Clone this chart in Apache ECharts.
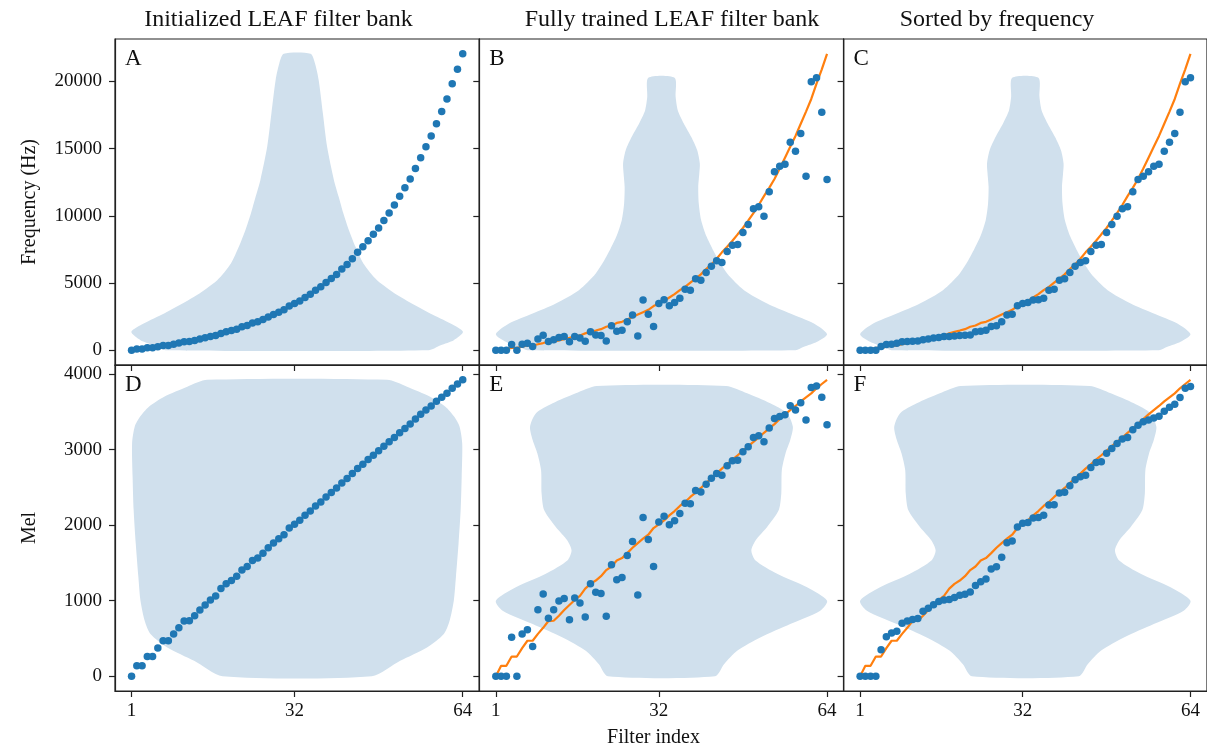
<!DOCTYPE html>
<html><head><meta charset="utf-8">
<script src="https://cdn.jsdelivr.net/npm/echarts@6/dist/echarts.min.js"></script>
<style>html,body{margin:0;padding:0;background:#fff}#c{width:1207px;height:749px}</style>
</head><body><div id="c"></div>
<script>
// ---------------- data ----------------
const filterIndex = [1,2,3,4,5,6,7,8,9,10,11,12,13,14,15,16,17,18,19,20,21,22,23,24,25,26,27,28,29,30,31,32,33,34,35,36,37,38,39,40,41,42,43,44,45,46,47,48,49,50,51,52,53,54,55,56,57,58,59,60,61,62,63,64];

const initHz = [0,86,86,172,172,258,345,345,440,530,630,640,725,823,916,1013,1098,1250,1365,1460,1566,1740,1840,2030,2110,2290,2470,2650,2830,3000,3280,3470,3666,3920,4168,4466,4714,5030,5330,5640,6040,6380,6800,7280,7690,8140,8620,9090,9640,10200,10800,11460,12080,12740,13510,14320,15130,15940,16850,17750,18690,19830,20900,22050];
const initMel = [0,137,137,260,260,372,469,469,560,640,730,734,801,876,943,1009,1063,1160,1222,1266,1324,1405,1452,1530,1563,1629,1700,1762,1820,1873,1961,2010,2063,2129,2186,2253,2306,2373,2430,2492,2558,2616,2682,2748,2806,2868,2925,2983,3045,3102,3160,3222,3280,3337,3404,3466,3523,3577,3638,3691,3744,3811,3868,3923];

const trainedHz = [0,0,0,420,0,445,520,280,830,1110,650,780,950,1010,620,1015,900,665,1364,1135,1100,685,1820,1414,1475,2108,2615,1050,3740,2678,1760,3472,3745,3310,3550,3870,4540,4464,5307,5208,5779,6250,6647,6523,7342,7812,7862,8755,9350,10517,10664,9970,11780,13268,13690,13839,15476,14806,16120,12946,19964,20262,17707,12698];
const trainedMel = [0,0,0,515,0,558,616,394,880,1089,766,881,996,1027,748,1036,970,783,1222,1111,1093,792,1474,1275,1306,1598,1784,1076,2100,1811,1452,2041,2116,2006,2059,2152,2289,2284,2457,2439,2541,2621,2683,2661,2785,2851,2860,2970,3036,3160,3182,3103,3284,3412,3439,3461,3581,3523,3620,3390,3820,3842,3691,3328];

const sortedHz = [0,0,0,0,280,420,445,520,620,650,665,685,780,830,900,950,1010,1015,1050,1100,1110,1135,1364,1414,1475,1760,1820,2108,2615,2678,3310,3472,3550,3740,3745,3870,4464,4540,5208,5307,5779,6250,6523,6647,7342,7812,7862,8755,9350,9970,10517,10664,11780,12698,12946,13268,13690,13839,14806,15476,16120,17707,19964,20262];
const sortedMel = [0,0,0,0,350,522,570,595,700,730,750,765,860,900,945,990,1010,1015,1040,1070,1085,1116,1200,1250,1285,1420,1450,1575,1765,1790,1975,2025,2035,2095,2100,2130,2265,2270,2425,2435,2522,2600,2640,2660,2762,2828,2838,2950,3015,3080,3140,3160,3262,3322,3368,3390,3418,3440,3508,3560,3600,3688,3812,3835];

const hzTicks = [0, 5000, 10000, 15000, 20000];
const melTicks = [0, 1000, 2000, 3000, 4000];
const indexTicks = [1, 32, 64];

// violin outlines: levels (bottom -> top) and half widths in filter-index units
const violinCenter = 32.5;
const violinInitHzLevels = [0, 372, 744, 1364, 1984, 2728, 3968, 5208, 6448, 7688, 8928, 10168, 11408, 12648, 15128, 17608, 20088, 21328, 22050];
const violinInitHzHalf   = [25.0, 27.3, 29.8, 31.55, 29.2, 25.3, 19.6, 15.2, 12.6, 11.1, 9.85, 8.8, 7.9, 7.0, 5.7, 4.9, 4.1, 3.4, 2.55];
const violinTrainedHzLevels = [0, 248, 620, 1190, 1984, 2728, 3472, 4464, 5704, 6944, 8432, 9672, 10912, 12152, 13144, 13888, 14880, 15872, 16864, 17856, 18848, 20262];
const violinTrainedHzHalf   = [25.5, 27.1, 29.6, 31.5, 29.0, 24.5, 20.1, 15.7, 12.5, 10.5, 8.6, 7.55, 7.1, 7.0, 7.2, 7.3, 6.8, 5.65, 4.25, 3.1, 2.7, 2.5];
const violinInitMelLevels = [0, 203, 380, 558, 734, 1000, 1310, 1753, 2195, 2638, 3081, 3302, 3434, 3567, 3700, 3833, 3923];
const violinInitMelHalf   = [14.2, 19.6, 24.7, 27.9, 29.0, 29.8, 30.2, 30.7, 31.1, 31.3, 31.4, 30.9, 29.9, 28.2, 25.3, 20.9, 17.1];
const violinTrainedMelLevels = [0, 159, 336, 513, 691, 867, 1000, 1177, 1355, 1531, 1664, 1797, 1974, 2195, 2417, 2726, 2948, 3125, 3302, 3479, 3612, 3745, 3842];
const violinTrainedMelHalf   = [10.2, 11.9, 14.4, 18.8, 24.5, 30.2, 31.5, 27.7, 22.0, 17.9, 17.1, 17.9, 20.1, 22.3, 22.8, 22.9, 23.6, 24.5, 25.0, 23.9, 20.7, 16.3, 12.3];

const panelTitles = ['Initialized LEAF filter bank', 'Fully trained LEAF filter bank', 'Sorted by frequency'];
const panelLetters = ['A', 'B', 'C', 'D', 'E', 'F'];
const yNames = ['Frequency (Hz)', 'Mel'];
const xName = 'Filter index';

// ---------------- layout / style ----------------
const FONT = 'Liberation Serif';
const lefts = [115, 479.3, 843.6];
const tops = [39, 365];
const W = 364.3, H = 326;
const yRanges = [[-1102.5, 23152.5], [-196.2, 4119.5]];
const xRange = [-2.15, 67.15];
const C_DOT = '#1f77b4', C_LINE = '#ff7f0e', C_VIOLIN = '#d0e0ed', C_AX = '#222';

function zip(xs, ys) { return xs.map((x, i) => [x, ys[i]]); }
const plain = v => String(v);

const grids = [], xAxes = [], yAxes = [], series = [], graphics = [];
for (let r = 0; r < 2; r++) {
  for (let c = 0; c < 3; c++) {
    const g = r * 3 + c;
    grids.push({ left: lefts[c], top: tops[r], width: W, height: H, show: true, borderColor: C_AX, borderWidth: 1.2, containLabel: false });
    xAxes.push({
      gridIndex: g, type: 'value', min: xRange[0], max: xRange[1],
      axisLine: { show: true, onZero: false, lineStyle: { color: C_AX, width: 1.2 } },
      axisTick: { show: true, inside: false, length: 6, customValues: indexTicks, lineStyle: { color: C_AX, width: 1.2 } },
      axisLabel: { show: r === 1, customValues: indexTicks, formatter: plain, margin: 11, color: '#111', fontFamily: FONT, fontSize: 19 },
      splitLine: { show: false }
    });
    yAxes.push({
      gridIndex: g, type: 'value', min: yRanges[r][0], max: yRanges[r][1],
      axisLine: { show: true, onZero: false, lineStyle: { color: C_AX, width: 1.2 } },
      axisTick: { show: true, inside: false, length: 6, customValues: r === 0 ? hzTicks : melTicks, lineStyle: { color: C_AX, width: 1.2 } },
      axisLabel: { show: c === 0, customValues: r === 0 ? hzTicks : melTicks, formatter: plain, margin: 13, color: '#111', fontFamily: FONT, fontSize: 19 },
      splitLine: { show: false }
    });
  }
}

function violin(g, levels, half) {
  return {
    type: 'custom', xAxisIndex: g, yAxisIndex: g, z: 1, silent: true, animation: false,
    data: [[violinCenter, 0]],
    renderItem: function (params, api) {
      const pts = [];
      for (let k = 0; k < levels.length; k++) pts.push(api.coord([violinCenter + half[k], levels[k]]));
      for (let k = levels.length - 1; k >= 0; k--) pts.push(api.coord([violinCenter - half[k], levels[k]]));
      return { type: 'polygon', shape: { points: pts, smooth: 0.25 }, style: { fill: C_VIOLIN } };
    }
  };
}
function line(g, ys) {
  return { type: 'line', xAxisIndex: g, yAxisIndex: g, z: 2, data: zip(filterIndex, ys), showSymbol: false, symbol: 'none',
    lineStyle: { color: C_LINE, width: 2.2 }, animation: false, silent: true };
}
function dots(g, ys) {
  return { type: 'scatter', xAxisIndex: g, yAxisIndex: g, z: 3, data: zip(filterIndex, ys), symbolSize: 7.5,
    itemStyle: { color: C_DOT, opacity: 1 }, animation: false, silent: true };
}

series.push(violin(0, violinInitHzLevels, violinInitHzHalf), dots(0, initHz));
series.push(violin(1, violinTrainedHzLevels, violinTrainedHzHalf), line(1, initHz), dots(1, trainedHz));
series.push(violin(2, violinTrainedHzLevels, violinTrainedHzHalf), line(2, initHz), dots(2, sortedHz));
series.push(violin(3, violinInitMelLevels, violinInitMelHalf), dots(3, initMel));
series.push(violin(4, violinTrainedMelLevels, violinTrainedMelHalf), line(4, initMel), dots(4, trainedMel));
series.push(violin(5, violinTrainedMelLevels, violinTrainedMelHalf), line(5, initMel), dots(5, sortedMel));

// titles
const titleX = [278.5, 672, 997];
panelTitles.forEach((t, i) => graphics.push({ type: 'text', x: titleX[i], y: 31.5, silent: true,
  style: { text: t, fill: '#111', font: '24px "' + FONT + '"', textAlign: 'center', textVerticalAlign: 'bottom' } }));
// panel letters
panelLetters.forEach((t, i) => {
  const r = Math.floor(i / 3), c = i % 3;
  graphics.push({ type: 'text', x: lefts[c] + 10, y: tops[r] + 31, silent: true, z: 10,
    style: { text: t, fill: '#111', font: '23px "' + FONT + '"', textAlign: 'left', textVerticalAlign: 'bottom' } });
});
// axis names
graphics.push({ type: 'text', x: 30, y: tops[0] + H / 2, rotation: Math.PI / 2, silent: true,
  style: { text: yNames[0], fill: '#111', font: '20px "' + FONT + '"', textAlign: 'center', textVerticalAlign: 'middle' } });
graphics.push({ type: 'text', x: 30, y: tops[1] + H / 2, rotation: Math.PI / 2, silent: true,
  style: { text: yNames[1], fill: '#111', font: '20px "' + FONT + '"', textAlign: 'center', textVerticalAlign: 'middle' } });
graphics.push({ type: 'text', x: 653.5, y: 738, silent: true,
  style: { text: xName, fill: '#111', font: '20px "' + FONT + '"', textAlign: 'center', textVerticalAlign: 'middle' } });

const chart = echarts.init(document.getElementById('c'), null, { renderer: 'canvas' });
chart.setOption({
  backgroundColor: '#fff', animation: false,
  grid: grids, xAxis: xAxes, yAxis: yAxes, series: series, graphic: graphics
});
</script></body></html>
